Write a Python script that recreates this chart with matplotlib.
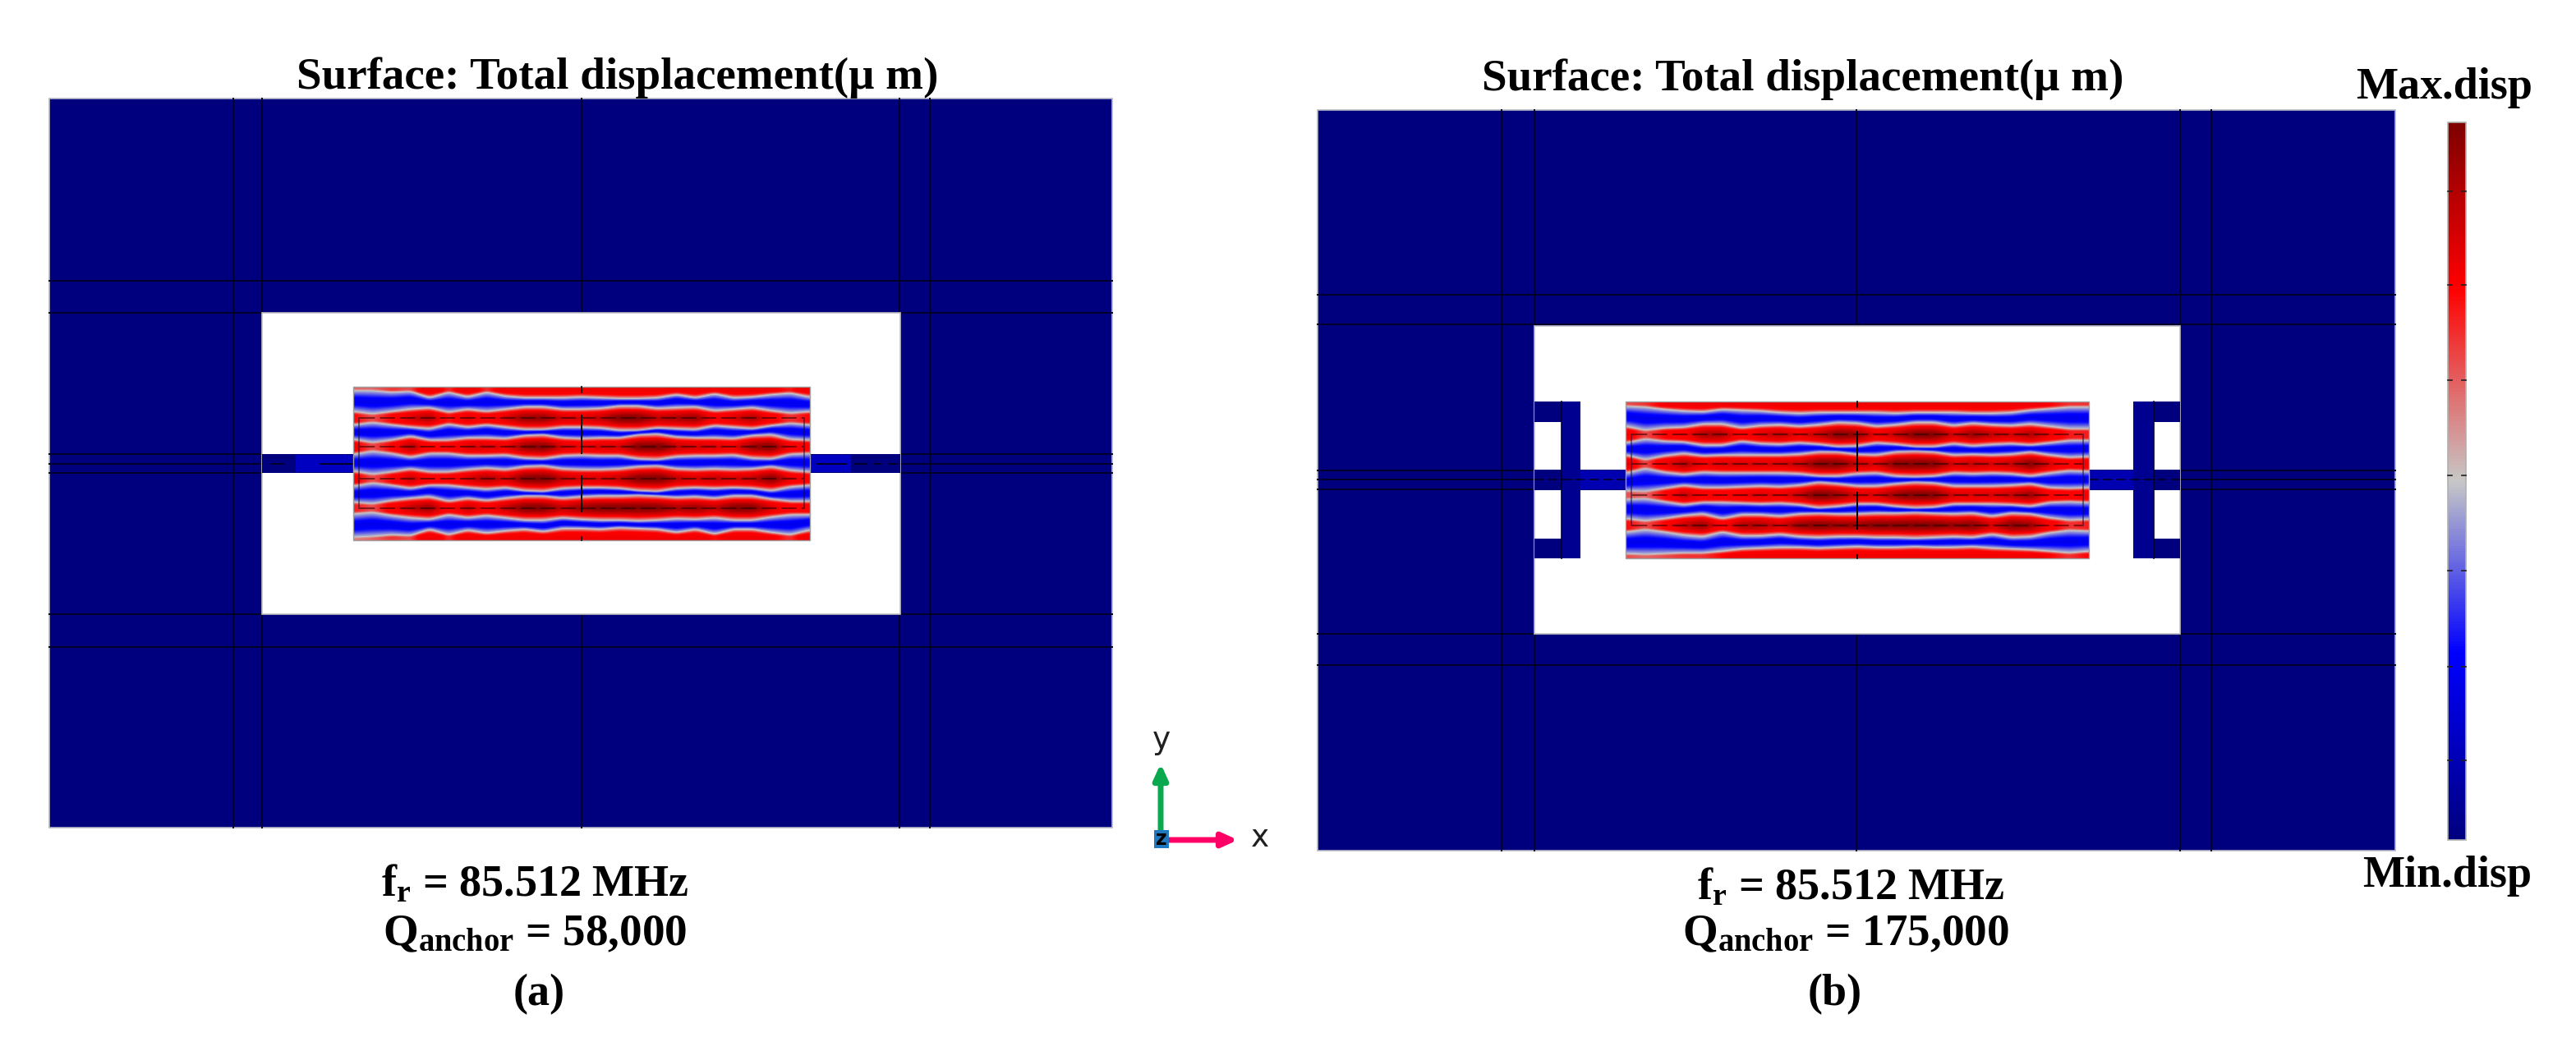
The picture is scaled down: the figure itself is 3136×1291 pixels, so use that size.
import numpy as np
import matplotlib
matplotlib.use("Agg")
import matplotlib.pyplot as plt
from matplotlib.colors import LinearSegmentedColormap
from matplotlib.patches import Rectangle

W, H = 3136, 1291

# Red-band half widths (px) read at 25 stations along each resonator plate
A_BANDS = [
    [4,4,6,5,13,6,12,6,11,13,13,13,12,13,14,14,13,9,13,8,13,12,9,7,12],
    [8,5,8,11,13,7,11,8,11,14,14,11,11,12,15,15,12,13,14,9,11,13,9,6,8],
    [9,5,8,13,8,8,11,11,10,14,15,11,10,11,11,15,16,12,11,11,10,14,15,9,8],
    [9,5,8,12,8,8,11,13,11,15,16,12,11,11,12,15,16,12,11,12,11,12,15,10,8],
    [7,5,9,12,14,8,12,9,12,15,15,12,14,15,15,16,15,13,14,12,15,15,11,8,8],
    [3,4,6,5,13,6,12,8,11,13,10,14,14,13,15,14,13,9,13,7,13,13,9,6,12],
]
B_BANDS = [
    [5,6,9,11,12,9,10,11,13,14,13,13,13,13,14,13,13,13,14,14,13,10,8,6,6],
    [10,5,8,9,13,13,8,11,12,10,12,15,14,10,12,15,15,11,14,12,11,13,10,7,7],
    [11,5,10,13,10,11,11,11,11,12,15,15,12,11,15,16,15,11,12,11,12,15,11,8,9],
    [5,4,8,12,9,9,10,11,10,12,16,14,11,11,14,16,15,11,11,11,12,14,9,8,9],
    [8,5,8,12,14,8,13,13,11,14,15,14,14,15,15,16,15,14,15,11,15,14,9,6,7],
    [5,4,5,6,6,8,11,12,13,13,12,13,14,13,13,14,13,13,14,12,11,10,8,6,8],
]
A_CENTRES = [471, 509, 544, 583, 619, 658]
B_CENTRES = [489, 529, 565, 603, 640, 680]
BAND_CAP = [0.80, 1.0, 1.0, 1.0, 1.0, 0.80]

A_OUTER = (60, 120, 1354, 1008)
B_OUTER = (1604, 134, 2916, 1036)
A_WINDOW = (319, 381, 1096, 748)
B_WINDOW = (1868, 397, 2654, 772)
A_PLATE = (430, 471, 986, 658)
B_PLATE = (1979, 489, 2543, 680)
A_STEM = (553, 576)
B_STEM = (572, 597)
A_HLINES = [342, 381, 553, 565, 576, 748, 788]
A_VLINES = [284, 319, 708, 1095, 1132]
B_HLINES = [359, 395, 573, 584, 596, 772, 810]
B_VLINES = [1828, 1868, 2260, 2654, 2692]

TITLE = "Surface: Total displacement(μ m)"
FREQ = r"$\mathbf{f_r}$ = 85.512 MHz"
Q_A = r"Q$\mathbf{_{anchor}}$ = 58,000"
Q_B = r"Q$\mathbf{_{anchor}}$ = 175,000"

NAVY = "#00007f"
cmap = LinearSegmentedColormap.from_list("disp", [
    (0.0, "#00007f"), (0.26, "#0000ff"), (0.5, "#c8c8c8"),
    (0.77, "#ff0000"), (1.0, "#7f0000")])

plt.rcParams["font.family"] = ["Liberation Serif"]
plt.rcParams["mathtext.fontset"] = "custom"
plt.rcParams["mathtext.rm"] = "Liberation Serif:bold"
plt.rcParams["mathtext.bf"] = "Liberation Serif:bold"
plt.rcParams["mathtext.it"] = "Liberation Serif:bold"

fig = plt.figure(figsize=(W / 100, H / 100), dpi=100, facecolor="white")
ax = fig.add_axes([0, 0, 1, 1])
ax.axis("off")


def rect(x0, y0, x1, y1, color, z, edge=None):
    ax.add_patch(Rectangle((x0, y0), x1 - x0, y1 - y0, facecolor=color,
                           edgecolor=edge or "none", linewidth=1.2 if edge else 0, zorder=z))


def smooth(a, n):
    k = np.ones(n) / n
    pad = np.pad(a, n, mode="edge")
    return np.convolve(pad, k, mode="same")[n:-n]


def field(plate, centres, bands):
    x0, y0, x1, y1 = plate
    xs = np.linspace(x0, x1, len(bands[0]))
    xf = np.arange(x0, x1 + 1)
    yf = np.arange(y0, y1 + 1)
    hw = np.array([smooth(smooth(np.interp(xf, xs, b), 7), 5) for b in bands])
    img = np.zeros((len(yf), len(xf)))
    for j in range(len(xf)):
        ys, vs = [], []
        for i, c in enumerate(centres):
            w = hw[i, j]
            peak = float(np.clip(0.70 + (w - 6) / 9 * 0.30, 0.56, BAND_CAP[i]))
            red = min(peak, 0.77)
            if i == 0:
                nodes = [(0, peak), (.7, red), (1, .5)]
            elif i == len(centres) - 1:
                nodes = [(-1, .5), (-.7, red), (0, peak)]
            else:
                nodes = [(-1, .5), (-.68, red), (-.25, max(red, peak - .06)), (0, peak),
                         (.25, max(red, peak - .06)), (.68, red), (1, .5)]
            for o, v in nodes:
                ys.append(c + o * w)
                vs.append(v)
            if i < len(centres) - 1:
                a = c + w
                b = centres[i + 1] - hw[i + 1, j]
                for t, v in [(.3, .27), (.5, .22), (.7, .27)]:
                    ys.append(a + t * (b - a))
                    vs.append(v)
        img[:, j] = np.interp(yf, ys, vs)
    for j in range(img.shape[1]):
        img[:, j] = smooth(img[:, j], 3)
    for i in range(img.shape[0]):
        img[i, :] = smooth(img[i, :], 5)
    ax.imshow(img, cmap=cmap, vmin=0, vmax=1, extent=(x0, x1, y1, y0), aspect="auto",
              interpolation="bilinear", zorder=5)
    ax.add_patch(Rectangle((x0, y0), x1 - x0, y1 - y0, fill=False, edgecolor="#a0a0a0", lw=1.0, zorder=6))


def lines(hs, vs, outer, window):
    x0, y0, x1, y1 = outer
    wx0, wy0, wx1, wy1 = window
    kw = dict(color="#000028", lw=1.4, zorder=2)
    for h in hs:
        ax.plot([x0, x1], [h, h], **kw)
    for v in vs:
        ax.plot([v, v], [y0, y1], **kw)
    rect(wx0, wy0, wx1, wy1, "white", 3, "#c0c0c8")


def plate_lines(plate, centres):
    x0, y0, x1, y1 = plate
    cx = (x0 + x1) / 2
    kw = dict(color="#300000", lw=1.1, alpha=.75, zorder=7)
    for c in centres[1:5]:
        ax.plot([x0 + 8, x1 - 8], [c, c], ls=(0, (12, 4)), **kw)
    for xv in (x0 + 7, x1 - 7):
        ax.plot([xv, xv], [centres[1], centres[4]], color="#101030", lw=1.2, alpha=.6, zorder=7)
    ax.plot([cx, cx], [centres[1] - 3, centres[2] + 8], color="k", lw=1.4, zorder=7)
    ax.plot([cx, cx], [centres[3] - 3, centres[4] + 4], color="k", lw=1.4, zorder=7)
    ax.plot([cx, cx], [y0, y0 + 7], color="k", lw=1.2, zorder=7)
    ax.plot([cx, cx], [y1 - 4, y1], color="k", lw=1.2, zorder=7)


# Panel (a)
rect(*A_OUTER, NAVY, 1, "#b8b8c8")
lines(A_HLINES, A_VLINES, A_OUTER, A_WINDOW)
rect(A_WINDOW[0], A_STEM[0], A_WINDOW[2], A_STEM[1], NAVY, 4)
rect(360, A_STEM[0] + 1, A_PLATE[2] + 50, A_STEM[1] - 1, "#0000c0", 4)
for seg in ((330, 345), (390, 430), (995, 1030), (1040, 1055), (1065, 1072), (1082, 1092)):
    ax.plot(seg, [565, 565], color="#000028", lw=1.4, zorder=4.5)
field(A_PLATE, A_CENTRES, A_BANDS)
plate_lines(A_PLATE, A_CENTRES)

# Panel (b)
rect(*B_OUTER, NAVY, 1, "#b8b8c8")
lines(B_HLINES, B_VLINES, B_OUTER, B_WINDOW)
rect(B_WINDOW[0], B_STEM[0], B_WINDOW[2], B_STEM[1], NAVY, 4)
rect(1924, B_STEM[0] + 1, 2597, B_STEM[1] - 1, "#0000b0", 4)
# folded flexure brackets on both sides of the plate
for (a, b, c, d) in ((1868, 1924, 1901, 1924), (2597, 2654, 2597, 2622)):
    rect(a, 489, b, 514, NAVY, 4)
    rect(a, 656, b, 680, NAVY, 4)
    rect(c, 489, d, 680, "#000090", 4)
for v in (1901, 2622):
    ax.plot([v, v], [489, 680], color="#000028", lw=1.2, zorder=4.5)
for h in (584, ):
    ax.plot([1868, 1979], [h, h], color="#000028", lw=1.2, ls=(0, (7, 3)), zorder=4.5)
    ax.plot([2543, 2654], [h, h], color="#000028", lw=1.2, ls=(0, (7, 3)), zorder=4.5)
field(B_PLATE, B_CENTRES, B_BANDS)
plate_lines(B_PLATE, B_CENTRES)

# Colour bar
grad = np.linspace(1, 0, 256).reshape(-1, 1)
ax.imshow(grad, cmap=cmap, vmin=0, vmax=1, extent=(2980, 3002, 1023, 149), aspect="auto", zorder=3)
ax.add_patch(Rectangle((2980, 149), 22, 874, fill=False, edgecolor="#b0b0b0", lw=1.2, zorder=4))
for t in [233, 347, 463, 579, 695, 812, 926]:
    ax.plot([2980, 2985], [t, t], color="#202020", lw=1.2, zorder=5)
    ax.plot([2997, 3002], [t, t], color="#202020", lw=1.2, zorder=5)

# Text
bold = dict(fontweight="bold", ha="center", va="center", color="black", fontsize=39)
ax.text(752, 95, TITLE, **{**bold, "fontsize": 39.6})
ax.text(2195, 97, TITLE, **{**bold, "fontsize": 39.6})
ax.text(651, 1078, FREQ, **bold)
ax.text(651, 1138, Q_A, **{**bold, "fontsize": 39.6})
ax.text(656, 1211, "(a)", **bold)
ax.text(2253, 1082, FREQ, **bold)
ax.text(2247, 1138, Q_B, **{**bold, "fontsize": 39.6})
ax.text(2234, 1211, "(b)", **bold)
ax.text(2976, 107, "Max.disp", **bold)
ax.text(2979, 1067, "Min.disp", **bold)

# Coordinate triad
ax.annotate("", xy=(1413, 930), xytext=(1413, 1012), zorder=6,
            arrowprops=dict(arrowstyle="-|>,head_length=1.1,head_width=0.5", color="#0aa84f", lw=5, shrinkA=0, shrinkB=0))
ax.annotate("", xy=(1507, 1023), xytext=(1422, 1023), zorder=6,
            arrowprops=dict(arrowstyle="-|>,head_length=1.1,head_width=0.5", color="#ff0066", lw=5, shrinkA=0, shrinkB=0))
rect(1405, 1011, 1423, 1033, "#1f78c0", 7)
ax.text(1414, 1022, "z", family="DejaVu Sans", fontweight="bold", fontsize=17, ha="center", va="center", color="black", zorder=8)
ax.text(1414, 902, "y", family="DejaVu Sans", fontsize=27, ha="center", va="center", color="#202020")
ax.text(1534, 1021, "x", family="DejaVu Sans", fontsize=27, ha="center", va="center", color="#202020")

ax.set_xlim(0, W)
ax.set_ylim(H, 0)
fig.savefig("out.png", dpi=100, facecolor="white")
